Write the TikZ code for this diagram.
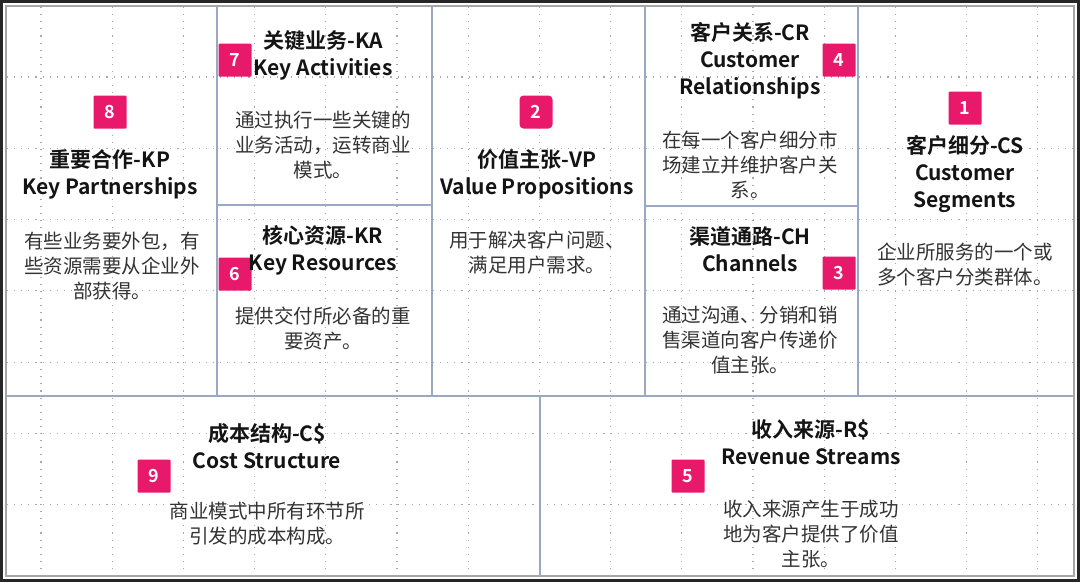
\documentclass[tikz,border=0pt]{standalone}
\usepackage{fontspec}
\setmainfont{Noto Sans CJK SC}[BoldFont={Noto Sans CJK SC Bold}]
\usetikzlibrary{calc}
\definecolor{badgepink}{HTML}{E8196B}
\definecolor{cellline}{HTML}{9AA8C2}
\definecolor{gridgray}{HTML}{A8A8A8}
\definecolor{desctext}{HTML}{333333}
\tikzset{
	badge/.style={fill=badgepink, text=white, minimum size=33pt, inner sep=0pt, rounded corners=1pt, font=\fontsize{18}{18}\selectfont\bfseries},
	title/.style={align=center, inner sep=0pt, text=black!92, font=\fontsize{21}{27}\selectfont\bfseries},
	desc/.style={align=center, inner sep=0pt, text=desctext, font=\fontsize{19.5}{25}\selectfont},
	cell/.style={draw=cellline, line width=1.2pt}
}
\begin{document}
\begin{tikzpicture}[x=1pt, y=-1pt]
			%%%%% START %%%%%
			\useasboundingbox (0, 0) rectangle (1080, 582);
			\fill[white] (0, 0) rectangle (1080, 582);
			
			% dotted background grid
			\foreach \k in {0,...,14}
				\draw[gridgray, line width=1.1pt, dash pattern=on 1.1pt off 6pt] ({41+71.2*\k}, 7) -- ({41+71.2*\k}, 575);
			\foreach \k in {0,...,6}
				\draw[gridgray, line width=1.1pt, dash pattern=on 1.1pt off 6pt] (7, {77+71.3*\k}) -- (1073, {77+71.3*\k});
			
			% cells
			\draw[cell] (7, 396) -- (1073, 396);
			\draw[cell] (217, 7) -- (217, 396);
			\draw[cell] (432, 7) -- (432, 396);
			\draw[cell] (645, 7) -- (645, 396);
			\draw[cell] (858, 7) -- (858, 396);
			\draw[cell] (217, 205) -- (432, 205);
			\draw[cell] (645, 206) -- (858, 206);
			\draw[cell] (540, 396) -- (540, 575);
			
			% frame
			\draw[gray!70, line width=1.3pt] (6, 6) rectangle (1074, 576);
			\draw[black!85, line width=3pt] (1.5, 1.5) rectangle (1078.5, 580.5);
			
			% key partnerships
			\node[badge] (b8) at (110, 112) {8};
			\node[title] (kp) at (110, 174) {重要合作-KP\\Key Partnerships};
			\node[desc] (kpdesc) at (112, 266) {有些业务要外包，有\\些资源需要从企业外\\部获得。};
			
			% key activities
			\node[badge] (b7) at (235, 60) {7};
			\node[title] (ka) at (323, 55) {关键业务-KA\\Key Activities};
			\node[desc] (kadesc) at (323, 145) {通过执行一些关键的\\业务活动，运转商业\\模式。};
			
			% key resources
			\node[badge] (b6) at (235, 274) {6};
			\node[title] (kr) at (323, 250) {核心资源-KR\\Key Resources};
			\node[desc] (krdesc) at (323, 329) {提供交付所必备的重\\要资产。};
			
			% value propositions
			\node[badge, rounded corners=4pt] (b2) at (536, 112) {2};
			\node[title] (vp) at (537, 174) {价值主张-VP\\Value Propositions};
			\node[desc] (vpdesc) at (537, 253) {用于解决客户问题、\\满足用户需求。};
			
			% customer relationships
			\node[badge] (b4) at (839, 60) {4};
			\node[title] (cr) at (750, 61) {客户关系-CR\\Customer\\Relationships};
			\node[desc] (crdesc) at (750, 165) {在每一个客户细分市\\场建立并维护客户关\\系。};
			
			% channels
			\node[badge] (b3) at (839, 273) {3};
			\node[title] (ch) at (750, 249) {渠道通路-CH\\Channels};
			\node[desc] (chdesc) at (750, 340) {通过沟通、分销和销\\售渠道向客户传递价\\值主张。};
			
			% customer segments
			\node[badge] (b1) at (965, 108) {1};
			\node[title] (cs) at (965, 174) {客户细分-CS\\Customer\\Segments};
			\node[desc] (csdesc) at (965, 265) {企业所服务的一个或\\多个客户分类群体。};
			
			% cost structure
			\node[badge] (b9) at (154, 476) {9};
			\node[title] (cost) at (267, 446) {成本结构-C\$\\Cost Structure};
			\node[desc] (costdesc) at (267, 524) {商业模式中所有环节所\\引发的成本构成。};
			
			% revenue streams
			\node[badge] (b5) at (688, 476) {5};
			\node[title] (rev) at (811, 442) {收入来源-R\$\\Revenue Streams};
			\node[desc] (revdesc) at (811, 534) {收入来源产生于成功\\地为客户提供了价值\\主张。};
			%%%%% END %%%%%
\end{tikzpicture}
\end{document}
